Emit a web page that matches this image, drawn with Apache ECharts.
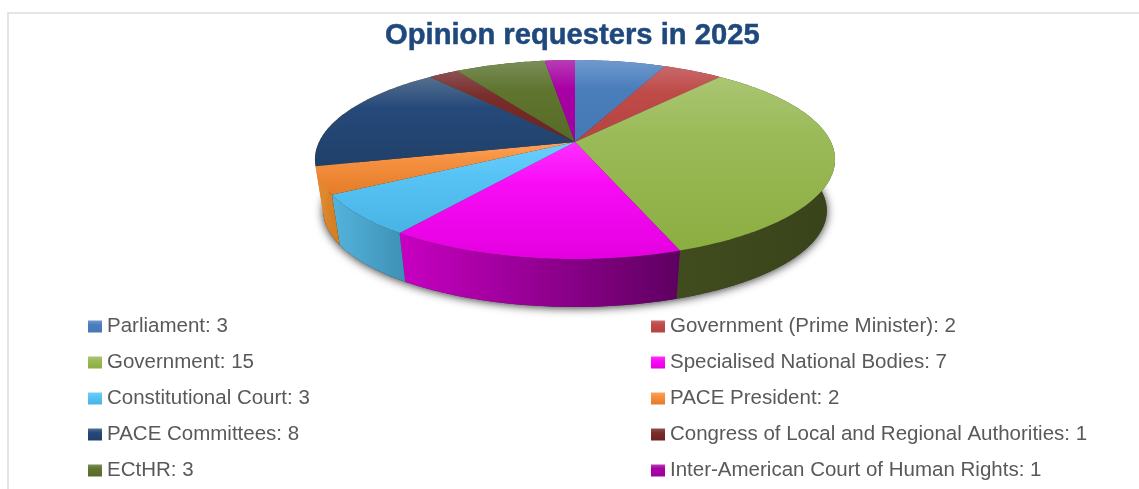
<!DOCTYPE html>
<html>
<head>
<meta charset="utf-8">
<style>
html,body{margin:0;padding:0;background:#fff}
#chart{width:1139px;height:489px}
</style>
<script src="https://cdn.jsdelivr.net/npm/echarts@6/dist/echarts.min.js"></script>
</head>
<body>
<div id="chart"></div>
<script>
// Requesters of opinions during 2025
var requesters = ['Parliament','Government (Prime Minister)','Government','Specialised National Bodies','Constitutional Court','PACE President','PACE Committees','Congress of Local and Regional Authorities','ECtHR','Inter-American Court of Human Rights'];
var opinions = [3,2,15,7,3,2,8,1,3,1];

// Top face shades (upper, middle, lower) and rim shades (left, right)
var faceShades = [
  ['#7099cf','#4a7ebb','#4579b6'],
  ['#c8686a','#be4b48','#b84340'],
  ['#aac672','#9aba58','#8bae40'],
  ['#ff30ff','#f80cf6','#e400e0'],
  ['#6ccfff','#58c4f6','#48b4e4'],
  ['#ffa458','#f59040','#e47c28'],
  ['#54708f','#25497a','#1f4068'],
  ['#8c5050','#7a2e2c','#6e2220'],
  ['#7a8e58','#5f7530','#566b26'],
  ['#b83cb4','#a800a4','#a000a0']
];
// The far-left sliver of the rim belongs to the committees slice but reads as the orange edge
var rimShades = [
  ['#3a6090','#2a4a78'],['#8c3836','#7a2c2a'],['#414c1e','#39431a'],['#c800c2','#5e0060'],
  ['#54b4dc','#3e90b6'],['#e48c30','#d07c22'],['#e08830','#e08830'],['#5a2020','#4a1818'],
  ['#46581f','#3c4a1a'],['#7a0078','#660066']
];

// Projection of the round pie onto the page
var view = {cx:575, cy:142, a:256, b:96.4, k:0.176, drop:51.7, shrink:0.968};
var total = opinions.reduce(function(s,v){return s+v;},0);

function project(angle, lower){
  var X = Math.sin(angle), Y = -Math.cos(angle), w = 1 - view.k*Y;
  var s = lower ? view.shrink : 1;
  return [view.cx + s*view.a*X/w, view.cy + (lower?view.drop:0) + s*view.b*Y/w];
}
function arc(from, to, lower){
  var n = Math.max(2, Math.ceil(Math.abs(to-from)/0.015)), out = [];
  for (var i=0;i<=n;i++) out.push(project(from+(to-from)*i/n, lower));
  return out;
}
function toAngle(v){ return v/total*2*Math.PI; }
function vertical(c){
  return {type:'linear',x:0,y:0,x2:0,y2:1,colorStops:[{offset:0,color:c[0]},{offset:0.35,color:c[1]},{offset:1,color:c[2]}]};
}
function horizontal(c){
  return {type:'linear',x:0,y:0,x2:1,y2:0,colorStops:[{offset:0,color:c[0]},{offset:1,color:c[1]}]};
}
function labelOf(i){ return requesters[i]+': '+opinions[i]; }

var series = [{
  // soft shadow under the lower rim
  type:'custom', name:'rim shadow', coordinateSystem:'none', silent:true, data:[[0]], z:1,
  renderItem:function(){
    return {type:'polygon', shape:{points:arc(0,2*Math.PI,true)},
      style:{fill:'#333',shadowBlur:10,shadowColor:'rgba(0,0,0,0.8)',shadowOffsetY:1}};
  }
}];
var running = 0;
opinions.forEach(function(v,i){
  series.push({
    type:'custom', name:labelOf(i), coordinateSystem:'none', silent:true, z:2,
    itemStyle:{color:vertical(faceShades[i])},
    data:[[running, v]],
    renderItem:function(params, api){
      var a0 = toAngle(api.value(0)), a1 = toAngle(api.value(0)+api.value(1));
      var upper = arc(a0,a1,false), lower = arc(a1,a0,true);
      return {type:'group', children:[
        {type:'polygon', z2:1, shape:{points:upper.concat(lower)}, style:{fill:horizontal(rimShades[i])}},
        {type:'polygon', z2:5, shape:{points:[[view.cx,view.cy]].concat(upper)}, style:{fill:vertical(faceShades[i])}}
      ]};
    }
  });
  running += v;
});

function column(x, odd){
  var names = [];
  requesters.forEach(function(r,i){ if (i%2===odd) names.push(labelOf(i)); });
  return {orient:'vertical', left:x, top:311, itemWidth:14, itemHeight:12, itemGap:15, itemStyle:{borderWidth:0},
    selectedMode:false, icon:'rect', align:'left', data:names,
    textStyle:{color:'#595959', fontFamily:'Liberation Sans', fontSize:20.5}};
}

var chart = echarts.init(document.getElementById('chart'), null, {renderer:'canvas'});
chart.setOption({
  animation:false,
  backgroundColor:'#fff',
  title:{text:'Opinion requesters in 2025', left:385, top:21, padding:0,
    textStyle:{color:'#1f497d', fontFamily:'Liberation Sans', fontWeight:'bold', fontSize:29.2,
      textBorderColor:'#1f497d', textBorderWidth:0.5}},
  legend:[column(83,0), column(646,1)],
  graphic:[{type:'rect', silent:true, z:-1, shape:{x:8,y:13,width:1300,height:600}, style:{fill:'none',stroke:'#dedede',lineWidth:1.6}}],
  series:series
});
</script>
</body>
</html>
